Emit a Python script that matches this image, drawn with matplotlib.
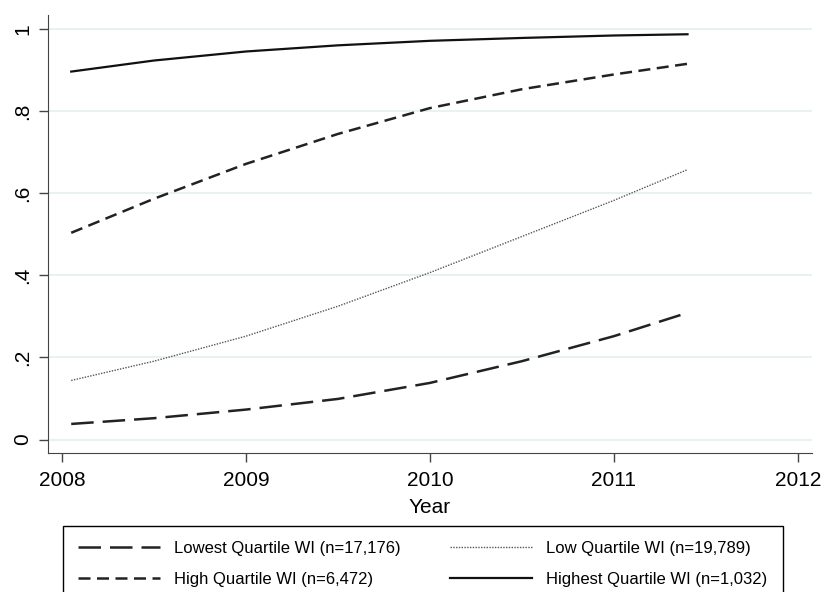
import numpy as np
import matplotlib.pyplot as plt

plt.rcParams['font.family'] = ['Liberation Sans', 'DejaVu Sans']

# predicted probabilities
years = [2008.05, 2008.5, 2009, 2009.5, 2010, 2010.5, 2011, 2011.4]
lowest = [0.038, 0.052, 0.073, 0.099, 0.138, 0.191, 0.252, 0.309]
low = [0.144, 0.191, 0.252, 0.325, 0.407, 0.495, 0.583, 0.658]
high = [0.504, 0.587, 0.672, 0.745, 0.808, 0.854, 0.890, 0.916]
highest = [0.897, 0.924, 0.946, 0.961, 0.972, 0.979, 0.985, 0.988]

labels = ['Lowest Quartile WI (n=17,176)', 'Low Quartile WI (n=19,789)',
          'High Quartile WI (n=6,472)', 'Highest Quartile WI (n=1,032)']

fig = plt.figure(figsize=(8.24, 5.92), dpi=100)
ax = fig.add_axes([0.0583, 0.234, 0.927, 0.7407])

l1, = ax.plot(years, lowest, color='#222222', lw=1.8, dashes=(9, 3.6), label=labels[0])
l2, = ax.plot(years, low, color='#555555', lw=1.0, dashes=(1, 1), label=labels[1])
l3, = ax.plot(years, high, color='#222222', lw=1.8, dashes=(4.8, 2.6), label=labels[2])
l4, = ax.plot(years, highest, color='#111111', lw=1.6, label=labels[3])

ax.set_xlim(2007.924, 2012.076)
ax.set_ylim(-0.034, 1.035)
ax.set_xticks([2008, 2009, 2010, 2011, 2012])
ax.set_yticks([0, 0.2, 0.4, 0.6, 0.8, 1.0])
ax.set_yticklabels(['0', '.2', '.4', '.6', '.8', '1'], rotation=90, va='center')
ax.tick_params(axis='both', labelsize=15, length=6.5, color='#444444', width=1)
ax.tick_params(axis='y', pad=5)
ax.tick_params(axis='x', pad=6)
ax.grid(axis='y', color='#e6eff1', lw=1.2)
ax.set_axisbelow(True)
for s in ['top', 'right']:
    ax.spines[s].set_visible(False)
for s in ['left', 'bottom']:
    ax.spines[s].set_color('#444444')
ax.set_xlabel('Year', fontsize=15, labelpad=6)

leg = fig.legend([l1, l3, l2, l4], [labels[0], labels[2], labels[1], labels[3]],
                 ncol=2, loc='upper left',
                 bbox_to_anchor=(63 / 824, 1 - 526 / 592),
                 fontsize=12, handlelength=4.9, fancybox=False,
                 edgecolor='black', framealpha=1, borderaxespad=0,
                 borderpad=0.9, labelspacing=0.95, handletextpad=0.85,
                 columnspacing=3.0)
leg.get_frame().set_linewidth(1.0)

fig.savefig('out.png', dpi=100)
